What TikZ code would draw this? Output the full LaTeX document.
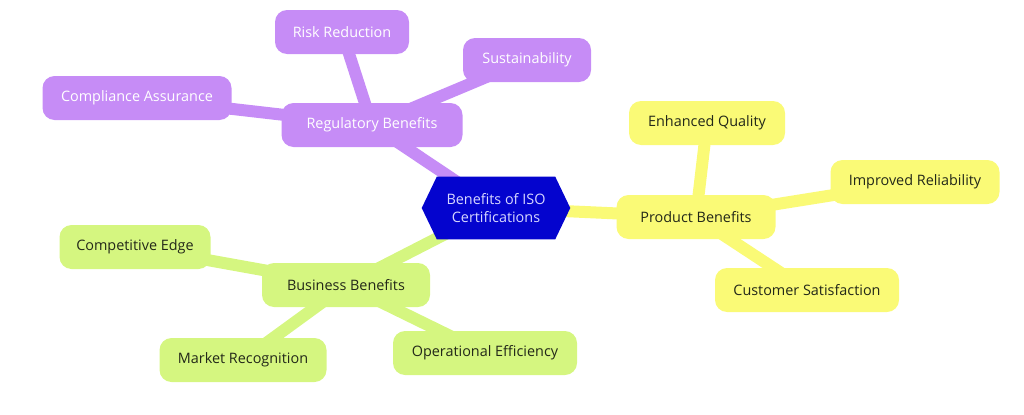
\documentclass[tikz,border=0pt]{standalone}
\usepackage{fontspec}
\setmainfont{Open Sans}
\pgfdeclarelayer{edges}
\pgfdeclarelayer{mid}
\pgfsetlayers{edges,mid,main}
\definecolor{regc}{RGB}{198,140,246}
\definecolor{prodc}{RGB}{250,250,118}
\definecolor{busc}{RGB}{213,246,128}
\definecolor{hexc}{RGB}{4,4,206}
\definecolor{darktext}{RGB}{35,40,25}
\definecolor{hextext}{RGB}{215,215,255}
\tikzset{
  box/.style={rectangle, rounded corners=9pt, minimum height=33pt, inner sep=2pt,
    font=\fontsize{10.8}{12.5}\selectfont},
  reg/.style={box, fill=regc, text=white},
  prod/.style={box, fill=prodc, text=darktext},
  bus/.style={box, fill=busc, text=darktext},
  link/.style={line width=9pt},
}
\begin{document}
\begin{tikzpicture}[x=0.75pt,y=-0.75pt]
\useasboundingbox (0,0) rectangle (1024,414);
% centre
\node (c) [minimum width=111pt, minimum height=46.5pt, inner sep=0pt, align=center,
  text=hextext, font=\fontsize{10.8}{13}\selectfont] at (496,208) {Benefits of ISO\\Certifications};
\begin{pgfonlayer}{mid}
\fill[hexc] (c.west) -- ([xshift=11.25pt]c.north west) -- ([xshift=-11.25pt]c.north east)
  -- (c.east) -- ([xshift=-11.25pt]c.south east) -- ([xshift=11.25pt]c.south west) -- cycle;
\end{pgfonlayer}
% regulatory
\node (reg) [reg, minimum width=135.75pt] at (372,125) {Regulatory Benefits};
\node (risk) [reg, minimum width=100.5pt] at (342,32) {Risk Reduction};
\node (sus) [reg, minimum width=96pt] at (527,60) {Sustainability};
\node (comp) [reg, minimum width=141.75pt] at (137,98) {Compliance Assurance};
% product
\node (prod) [prod, minimum width=119.25pt] at (696,217) {Product Benefits};
\node (enh) [prod, minimum width=117pt] at (707,123) {Enhanced Quality};
\node (imp) [prod, minimum width=126.75pt] at (915,182) {Improved Reliability};
\node (cust) [prod, minimum width=138pt] at (807,290) {Customer Satisfaction};
% business
\node (bus) [bus, minimum width=126pt] at (346,285) {Business Benefits};
\node (edge) [bus, minimum width=113.25pt] at (135,247) {Competitive Edge};
\node (mkt) [bus, minimum width=125.25pt] at (243,360) {Market Recognition};
\node (ops) [bus, minimum width=138pt] at (485,353) {Operational Efficiency};
\begin{pgfonlayer}{edges}
\draw[link, regc] (c.center) -- (reg.center);
\draw[link, regc] (reg.center) -- (risk.center);
\draw[link, regc] (reg.center) -- (sus.center);
\draw[link, regc] (reg.center) -- (comp.center);
\draw[link, prodc] (c.center) -- (prod.center);
\draw[link, prodc] (prod.center) -- (enh.center);
\draw[link, prodc] (prod.center) -- (imp.center);
\draw[link, prodc] (prod.center) -- (cust.center);
\draw[link, busc] (c.center) -- (bus.center);
\draw[link, busc] (bus.center) -- (edge.center);
\draw[link, busc] (bus.center) -- (mkt.center);
\draw[link, busc] (bus.center) -- (ops.center);
\end{pgfonlayer}
\end{tikzpicture}
\end{document}
